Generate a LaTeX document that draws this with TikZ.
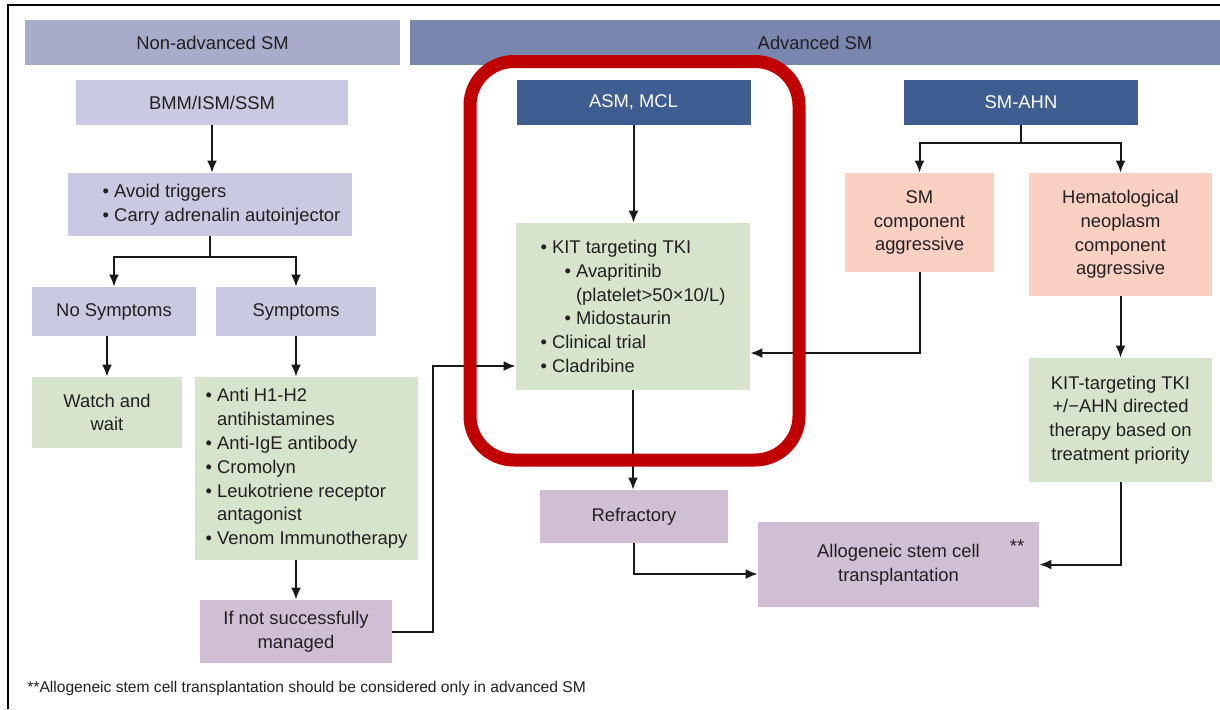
\documentclass[tikz,border=0pt]{standalone}
\usepackage{fontspec}
\setmainfont{Liberation Sans}
\usetikzlibrary{arrows.meta}

\definecolor{hdrlt}{RGB}{166,172,201}
\definecolor{hdrdk}{RGB}{121,135,174}
\definecolor{lavbox}{RGB}{201,201,225}
\definecolor{grnbox}{RGB}{214,228,204}
\definecolor{purbox}{RGB}{208,190,212}
\definecolor{salbox}{RGB}{249,208,194}
\definecolor{dkblue}{RGB}{62,94,146}
\definecolor{hilite}{RGB}{192,0,0}
\definecolor{txt}{RGB}{35,31,32}

\begin{document}
\begin{tikzpicture}[x=0.5pt,y=-0.5pt,
    font=\fontsize{9.2}{11.9}\selectfont, text=txt,
    box/.style={inner sep=0pt, align=center},
    hdrl/.style={box, fill=hdrlt, minimum height=22.5pt},
    hdrd/.style={box, fill=hdrdk, minimum height=22.5pt},
    lav/.style={box, fill=lavbox},
    grn/.style={box, fill=grnbox},
    pur/.style={box, fill=purbox},
    sal/.style={box, fill=salbox},
    dkb/.style={box, fill=dkblue, text=white, minimum height=22.5pt},
    conn/.style={line width=1pt, draw=black!90, -{Latex[length=6pt,width=5pt]}}]
  \useasboundingbox (0,0) rectangle (1220,709);
  \draw[line width=1pt] (8,709) -- (8,5) -- (1220,5);

  \node[hdrl, minimum width=187.5pt] (nonadv) at (212.5,42.5) {Non-advanced SM};
  \node[hdrd, minimum width=405pt] (adv) at (815,42.5) {Advanced SM};

  \node[lav, minimum width=136pt, minimum height=22.5pt] (bmm) at (212,102.5) {BMM/ISM/SSM};
  \node[lav, minimum width=142pt, minimum height=31.5pt, align=left] (avoid) at (210,204.5)
    {\hspace*{11.5pt}\textbullet\ Avoid triggers\\ \hspace*{11.5pt}\textbullet\ Carry adrenalin autoinjector};
  \node[lav, minimum width=82pt, minimum height=24.5pt] (nosym) at (114,311.5) {No Symptoms};
  \node[lav, minimum width=80pt, minimum height=24.5pt] (sym) at (296,311.5) {Symptoms};
  \node[grn, minimum width=75pt, minimum height=35.5pt] (watch) at (107,412.5) {Watch and\\wait};
  \node[grn, minimum width=111.5pt, minimum height=91.5pt, align=left] (anti) at (306.5,468.5)
    {\textbullet\ Anti H1-H2\\ \hphantom{\textbullet\ }antihistamines\\ \textbullet\ Anti-IgE antibody\\
     \textbullet\ Cromolyn\\ \textbullet\ Leukotriene receptor\\ \hphantom{\textbullet\ }antagonist\\
     \textbullet\ Venom Immunotherapy};
  \node[pur, minimum width=96pt, minimum height=31.5pt] (ifnot) at (296,631.5) {If not successfully\\managed};

  \node[dkb, minimum width=117pt] (asm) at (633.5,102.5) {ASM, MCL};
  \node[grn, minimum width=117pt, minimum height=83.5pt, align=left] (kit) at (633,306.5)
    {\textbullet\ KIT targeting TKI\\ \hspace*{12pt}\textbullet\ Avapritinib\\
     \hspace*{12pt}\hphantom{\textbullet\ }(platelet>50×10/L)\\ \hspace*{12pt}\textbullet\ Midostaurin\\
     \textbullet\ Clinical trial\\ \textbullet\ Cladribine};
  \node[pur, minimum width=94pt, minimum height=26.5pt] (refr) at (634,516.5) {Refractory};
  \node[pur, minimum width=140.5pt, minimum height=42.5pt] (allo) at (898.5,564.5) {Allogeneic stem cell\\transplantation};
  \node[inner sep=0pt] (allostar) at (1017,546) {**};

  \node[dkb, minimum width=117pt] (smahn) at (1021,102.5) {SM-AHN};
  \node[sal, minimum width=74.5pt, minimum height=49.5pt] (smcomp) at (919.5,222.5) {SM\\component\\aggressive};
  \node[sal, minimum width=91.5pt, minimum height=61.5pt] (hema) at (1120.5,234.5) {Hematological\\neoplasm\\component\\aggressive};
  \node[grn, minimum width=91.5pt, minimum height=62pt] (kittarg) at (1120.5,420)
    {KIT-targeting TKI\\+/−AHN directed\\therapy based on\\treatment priority};

  \node[anchor=west, inner sep=0pt, font=\fontsize{7.8}{9}\selectfont] (foot) at (27,688)
    {**Allogeneic stem cell transplantation should be considered only in advanced SM};

  \draw[conn] (bmm.south) -- (bmm.south |- avoid.north);
  \draw[conn] (avoid.south) -- ++(0,21) -| (nosym.north);
  \draw[conn] (avoid.south) -- ++(0,21) -| (sym.north);
  \draw[conn] (watch.north |- nosym.south) -- (watch.north);
  \draw[conn] (sym.south) -- (sym.south |- anti.north);
  \draw[conn] (anti.south -| ifnot) -- (ifnot.north);
  \draw[conn] (ifnot.east) -- ++(41,0) |- ([yshift=-29.75pt]kit.west);
  \draw[conn] (asm.south) -- (asm.south |- kit.north);
  \draw[conn] (kit.south) -- (kit.south |- refr.north);
  \draw[conn] (refr.south) |- ([yshift=-4.75pt]allo.west);
  \draw[conn] (smahn.south) -- ++(0,18) -| (smcomp.north);
  \draw[conn] (smahn.south) -- ++(0,18) -| (hema.north);
  \draw[conn] (smcomp.south) |- ([yshift=-23.25pt]kit.east);
  \draw[conn] (hema) -- (kittarg);
  \draw[conn] (kittarg.south) |- (allo.east);

  \draw[line width=6.5pt, hilite, rounded corners=22pt] (470,61.5) rectangle (799,460);
\end{tikzpicture}
\end{document}
